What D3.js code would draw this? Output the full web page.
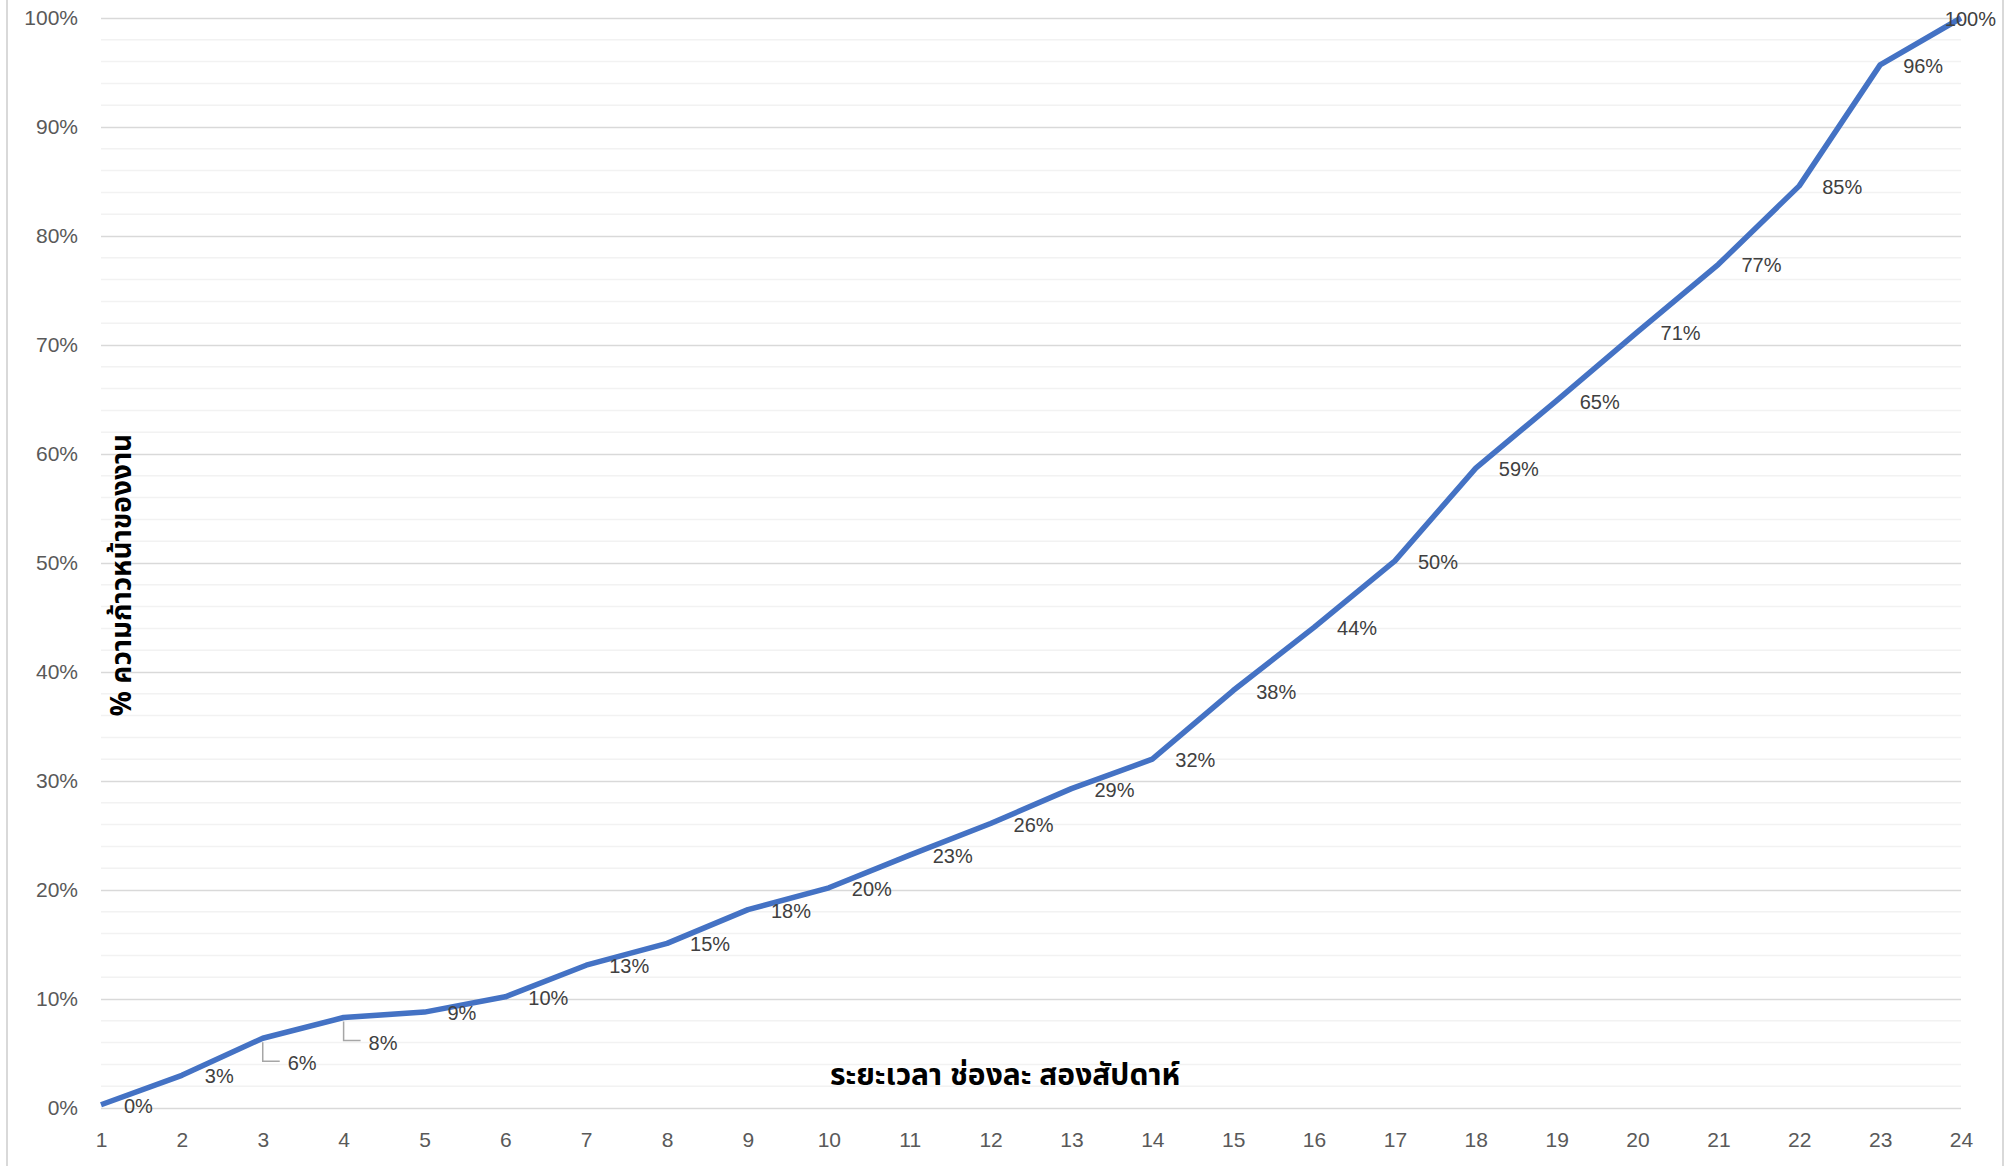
<!DOCTYPE html>
<html lang="th">
<head>
    <meta charset="UTF-8">
    <script src="https://cdn.jsdelivr.net/npm/d3@7.8.5/dist/d3.min.js"></script>
    <title>ความก้าวหน้าของงาน</title>
    <style>
        body { margin: 0; background: #fff; }
        text { font-family: "Liberation Sans", "Noto Sans", sans-serif; }
        .thai { font-family: "Noto Sans Thai", "Noto Sans", "DejaVu Sans", sans-serif; font-weight: bold; fill: #000; }
    </style>
</head>
<body onload="main()">
    <svg width="2015" height="1166"></svg>
    <script type="text/javascript">
        // chart data
        var periods = [1, 2, 3, 4, 5, 6, 7, 8, 9, 10, 11, 12, 13, 14, 15, 16, 17, 18, 19, 20, 21, 22, 23, 24];
        var progress = [0.003, 0.030, 0.064, 0.083, 0.088, 0.102, 0.131, 0.151, 0.182, 0.202, 0.232, 0.261,
                        0.293, 0.320, 0.383, 0.441, 0.502, 0.587, 0.649, 0.712, 0.774, 0.846, 0.957, 1.0];
        var yTicks = [0, 0.1, 0.2, 0.3, 0.4, 0.5, 0.6, 0.7, 0.8, 0.9, 1.0];
        var xTitle = "ระยะเวลา ช่องละ สองสัปดาห์";
        var yTitle = "% ความก้าวหน้าของงาน";
        // labels that Excel moved down with a leader line
        var leaderIdx = [2, 3];

        function main() {
            var svg = d3.select("svg");
            var left = 101, right = 1961, top = 18, bottom = 1108;

            // chart border (only sides are visible)
            svg.append("line").attr("x1", 7).attr("x2", 7).attr("y1", 0).attr("y2", 1166)
                .attr("stroke", "#d9d9d9").attr("stroke-width", 2);
            svg.append("line").attr("x1", 2003).attr("x2", 2003).attr("y1", 0).attr("y2", 1166)
                .attr("stroke", "#d9d9d9").attr("stroke-width", 2);

            var x = d3.scalePoint().domain(periods).range([left, right]);
            var y = d3.scaleLinear().domain([0, 1]).range([bottom, top]);

            // minor gridlines every 2%
            var minor = d3.range(0, 101, 2).filter(function(v){ return v % 10 != 0; }).map(function(v){ return v / 100; });
            svg.append("g").selectAll("line").data(minor).enter().append("line")
                .attr("x1", left).attr("x2", right)
                .attr("y1", function(d){ return y(d); }).attr("y2", function(d){ return y(d); })
                .attr("stroke", "#f2f2f2").attr("stroke-width", 1.5);

            // y axis with major gridlines
            var yAxis = svg.append("g").attr("transform", "translate(" + left + ",0)")
                .call(d3.axisLeft(y).tickValues(yTicks).tickFormat(d3.format(".0%")).tickSize(-(right - left)).tickPadding(23));
            yAxis.select(".domain").remove();
            yAxis.selectAll(".tick line").attr("stroke", "#d9d9d9").attr("stroke-width", 1.5);
            yAxis.selectAll(".tick text").attr("fill", "#595959").style("font-size", "21px");

            // x axis
            var xAxis = svg.append("g").attr("transform", "translate(0," + bottom + ")")
                .call(d3.axisBottom(x).tickSize(0).tickPadding(24));
            xAxis.select(".domain").remove();
            xAxis.selectAll(".tick text").attr("fill", "#595959").style("font-size", "21px");

            // progress line
            var line = d3.line().x(function(d, i){ return x(periods[i]); }).y(function(d){ return y(d); });
            svg.append("path").datum(progress).attr("d", line)
                .attr("fill", "none").attr("stroke", "#4472c4").attr("stroke-width", 5.5)
                .attr("stroke-linejoin", "round");

            // leader lines
            svg.append("g").selectAll("path").data(leaderIdx).enter().append("path")
                .attr("d", function(i){
                    var px = x(periods[i]), py = y(progress[i]);
                    return "M" + px + "," + (py + 4) + "V" + (py + 23) + "H" + (px + 17);
                })
                .attr("fill", "none").attr("stroke", "#a6a6a6").attr("stroke-width", 1.5);

            // data labels
            svg.append("g").selectAll("text").data(progress).enter().append("text")
                .attr("x", function(d, i){
                    var px = x(periods[i]) + 23;
                    if (leaderIdx.indexOf(i) >= 0) px += 2;
                    return px;
                })
                .attr("y", function(d, i){
                    var py = y(d) + 1;
                    if (leaderIdx.indexOf(i) >= 0) py += 24;
                    return py;
                })
                .attr("dominant-baseline", "central")
                .attr("fill", "#404040").style("font-size", "20px")
                .text(function(d){ return d3.format(".0%")(d); })
                .each(function(){
                    // keep the label inside the chart like Excel does
                    var w = this.getComputedTextLength();
                    var xx = +d3.select(this).attr("x");
                    if (xx + w > 1996) d3.select(this).attr("x", 1996 - w);
                });

            // axis titles
            svg.append("text").attr("class", "thai")
                .attr("x", 1005).attr("y", 1076)
                .attr("text-anchor", "middle").attr("dominant-baseline", "central")
                .style("font-size", "30px").text(xTitle);
            svg.append("text").attr("class", "thai")
                .attr("transform", "translate(122,575) rotate(-90)")
                .attr("text-anchor", "middle").attr("dominant-baseline", "central")
                .style("font-size", "28px").text(yTitle);
        }
    </script>
</body>
</html>
